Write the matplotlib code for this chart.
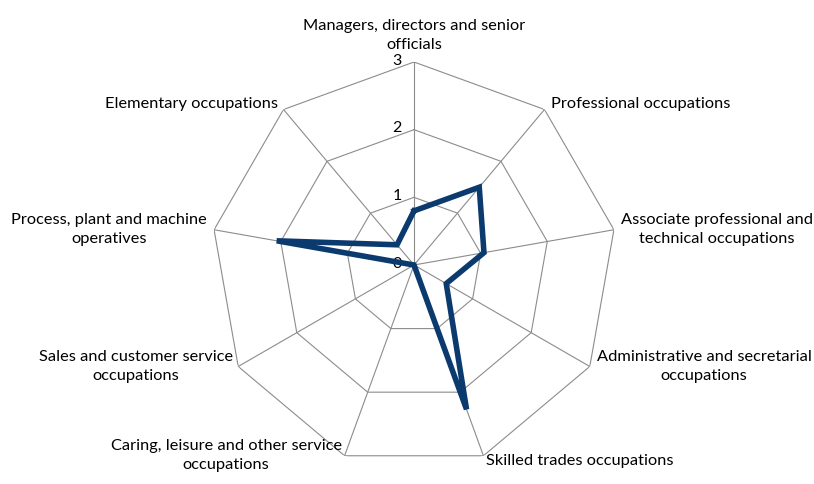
import numpy as np
import matplotlib
matplotlib.use("Agg")
import matplotlib.pyplot as plt

plt.rcParams['font.family'] = ['Lato', 'DejaVu Sans']

categories = ["Managers, directors and senior\nofficials",
              "Professional occupations",
              "Associate professional and\ntechnical occupations",
              "Administrative and secretarial\noccupations",
              "Skilled trades occupations",
              "Caring, leisure and other service\noccupations",
              "Sales and customer service\noccupations",
              "Process, plant and machine\noperatives",
              "Elementary occupations"]
values = [0.8, 1.5, 1.05, 0.55, 2.27, 0.0, 0.0, 2.06, 0.39]
levels = [0, 1, 2, 3]

# label placement (offset in points, alignment) per spoke
label_pos = [((0, 7), 'center', 'bottom'),
             ((5, -1), 'left', 'bottom'),
             ((5, 0), 'left', 'center'),
             ((5, 0), 'left', 'center'),
             ((2, -4), 'left', 'center'),
             ((-2, 0), 'right', 'center'),
             ((-4, 0), 'right', 'center'),
             ((-5, 0), 'right', 'center'),
             ((-4, -1), 'right', 'bottom')]

n = len(categories)
theta = np.arange(n) * 2 * np.pi / n
ring = np.append(theta, theta[0])

W, H = 814, 484
fig = plt.figure(figsize=(W / 100, H / 100), dpi=100)
cx, cy, R = 414, 265, 203
ax = fig.add_axes([(cx - R) / W, (H - cy - R) / H, 2 * R / W, 2 * R / H], projection='polar')
ax.set_theta_offset(np.pi / 2)
ax.set_theta_direction(-1)
ax.set_ylim(0, 3)
ax.grid(False)
ax.spines['polar'].set_visible(False)
ax.set_xticks([])
ax.set_yticks([])
ax.patch.set_visible(False)

grid_col = '#8c8c8c'
for lv in levels[1:]:
    ax.plot(ring, [lv] * (n + 1), color=grid_col, lw=0.8, zorder=1)
for t in theta:
    ax.plot([t, t], [0, 3], color=grid_col, lw=0.8, zorder=1)

for lv in levels:
    ax.annotate(str(lv), (0, lv), xytext=(-9, 1), textcoords='offset points',
                ha='right', va='center', fontsize=11.5, color='black')

ax.plot(ring, values + [values[0]], color='#0B3A6E', lw=4,
        solid_joinstyle='miter', zorder=3)

for t, lab, (off, ha, va) in zip(theta, categories, label_pos):
    ax.annotate(lab, (t, 3), xytext=off, textcoords='offset points', ha=ha, va=va,
                multialignment='center', fontsize=11.8, linespacing=1.45,
                color='black', annotation_clip=False)

fig.savefig('out.png', dpi=100, facecolor='white')
